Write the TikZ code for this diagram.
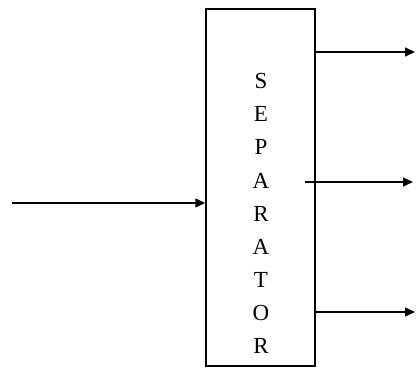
\documentclass[tikz,border=0pt]{standalone}
\usepackage{fontspec}
\setmainfont{Liberation Serif}
\usetikzlibrary{arrows.meta}
\begin{document}
\begin{tikzpicture}[x=1pt,y=1pt,
  flow/.style={line width=1.5pt,-{Triangle[length=10pt,width=9pt]}},
  sepbox/.style={draw,line width=1.5pt,minimum width=109pt,minimum height=357pt,inner sep=0pt}]
\useasboundingbox (0,0) rectangle (416,377);
\node[sepbox] (sep) at (260.5,189.5) {};
\node[align=center,font=\fontsize{23}{33.1}\selectfont] (lbl) at (261,163.5) {S\\E\\P\\A\\R\\A\\T\\O\\R};
\coordinate (in) at (12,174);
\coordinate (o1) at (415,325);
\coordinate (m0) at (305,195);
\coordinate (o2) at (413,195);
\coordinate (o3) at (415,65);
\draw[flow] (in) -- (in -| sep.west);
\draw[flow] (o1 -| sep.east) -- (o1);
\draw[flow] (m0) -- (o2);
\draw[flow] (o3 -| sep.east) -- (o3);
\end{tikzpicture}
\end{document}
